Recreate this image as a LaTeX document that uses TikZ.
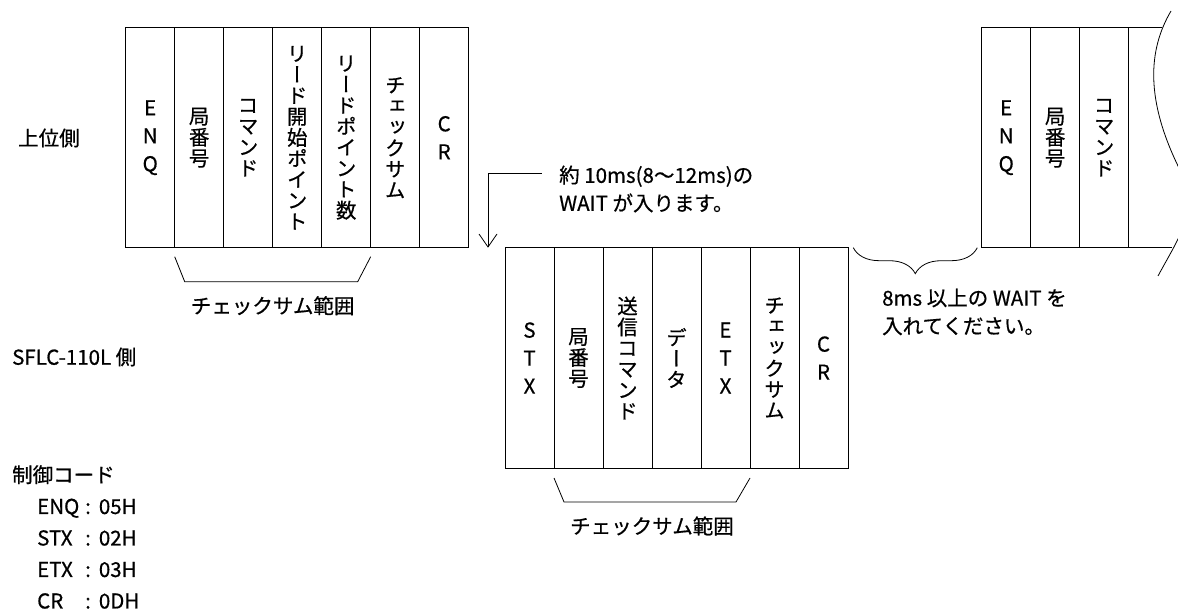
\documentclass[tikz,border=0pt]{standalone}
\usepackage{fontspec}
\setmainfont{Noto Sans CJK JP}[RawFeature={embolden=0.6}]
\newfontfamily\vjp{Noto Sans CJK JP}[RawFeature={+vert;embolden=0.6}]
\usepackage{tikz}
\usetikzlibrary{calc,positioning,arrows.meta,decorations.pathreplacing}
\tikzset{
  frameCell/.style={draw, line width=1pt, minimum width=49pt, minimum height=220pt,
    inner sep=0pt, outer sep=0pt, align=center, font=\vjp\fontsize{20.5}{21}\selectfont},
  codeCell/.style={frameCell, font=\fontsize{20.5}{28}\selectfont},
  rangeLine/.style={line width=0.8pt},
  waitArrow/.style={line width=0.8pt, -{Straight Barb[length=13pt,width=18pt]}},
  rangeBrace/.style={line width=0.8pt, decorate, decoration={brace, amplitude=26pt}},
  noteText/.style={font=\fontsize{20.5}{28}\selectfont, inner sep=0pt, align=left}
}

\begin{document}
\begin{tikzpicture}[x=1pt,y=-1pt]
  \useasboundingbox (0,0) rectangle (1178,612);

  % side labels
  \node[noteText, anchor=west] (host) at (18,138) {上位側};
  \node[noteText, anchor=west] (slave) at (12,357) {SFLC-110L 側};
  \node[noteText, anchor=west, font=\fontsize{20.5}{31.5}\selectfont] (codes) at (12,537)
    {制御コード\\
     \hspace*{25pt}\makebox[48pt][l]{ENQ}:\hspace{8pt}05H\\
     \hspace*{25pt}\makebox[48pt][l]{STX}:\hspace{8pt}02H\\
     \hspace*{25pt}\makebox[48pt][l]{ETX}:\hspace{8pt}03H\\
     \hspace*{25pt}\makebox[48pt][l]{CR}:\hspace{8pt}0DH};

  % host frame
  \node[codeCell] (hEnq) at (150.2,137.7) {E\\N\\Q};
  \node[frameCell, right=0pt of hEnq] (hStn) {局\\番\\号};
  \node[frameCell, right=0pt of hStn] (hCmd) {コ\\マ\\ン\\ド};
  \node[frameCell, right=0pt of hCmd] (hStart) {リ\\ー\\ド\\開\\始\\ポ\\イ\\ン\\ト};
  \node[frameCell, right=0pt of hStart] (hCount) {リ\\ー\\ド\\ポ\\イ\\ン\\ト\\数};
  \node[frameCell, right=0pt of hCount] (hSum) {チ\\ェ\\ッ\\ク\\サ\\ム};
  \node[codeCell, right=0pt of hSum] (hCr) {C\\R};

  \draw[rangeLine] ($(hStn.south west)+(0,9)$) -- ($(hStn.south west)+(10,34)$)
    -- ($(hSum.south west)+(-13,34)$) -- ($(hSum.south west)+(0,9)$);
  \node[noteText] (hRange) at ($(hStn.south west)!0.5!(hSum.south west)+(0,58)$) {チェックサム範囲};

  % slave frame
  \node[codeCell] (sStx) at (529.5,358) {S\\T\\X};
  \node[frameCell, right=0pt of sStx] (sStn) {局\\番\\号};
  \node[frameCell, right=0pt of sStn] (sCmd) {送\\信\\コ\\マ\\ン\\ド};
  \node[frameCell, right=0pt of sCmd] (sData) {デ\\ー\\タ};
  \node[codeCell, right=0pt of sData] (sEtx) {E\\T\\X};
  \node[frameCell, right=0pt of sEtx] (sSum) {チ\\ェ\\ッ\\ク\\サ\\ム};
  \node[codeCell, right=0pt of sSum] (sCr) {C\\R};

  \draw[rangeLine] ($(sStn.south west)+(0,10)$) -- ($(sStn.south west)+(10,34)$)
    -- ($(sSum.south west)+(-14,34)$) -- ($(sSum.south west)+(0,10)$);
  \node[noteText] (sRange) at ($(sStn.south west)!0.5!(sSum.south west)+(0,58)$) {チェックサム範囲};

  % wait before reply
  \coordinate (waitStart) at (541.7,173.3);
  \coordinate (waitTip) at (488,247.7);
  \draw[waitArrow] (waitStart) -| (waitTip);
  \node[noteText, anchor=west] (waitNote) at (559,189) {約 10ms(8～12ms)の\\WAIT が入ります。};

  % next request
  \node[codeCell] (nEnq) at (1006.2,137.7) {E\\N\\Q};
  \node[frameCell, right=0pt of nEnq] (nStn) {局\\番\\号};
  \node[frameCell, right=0pt of nStn] (nCmd) {コ\\マ\\ン\\ド};
  \coordinate (waveTop) at (1162,27.7);
  \coordinate (waveBot) at (1172,247.7);
  \draw[line width=1pt] (nCmd.north east) -- (waveTop);
  \draw[line width=1pt] (nCmd.south east) -- (waveBot);
  \draw[rangeLine] (1171,11) .. controls (1148,50) and (1145,100) .. (1180,170)
    .. controls (1200,210) and (1180,235) .. (1158,276);

  \coordinate (gapRight) at (977.3,247.7);
  \coordinate (gapLeft) at (853.3,247.7);
  \draw[rangeBrace] (gapRight) -- (gapLeft);
  \node[noteText, anchor=west] (gapNote) at (882,312) {8ms 以上の WAIT を\\入れてください。};
\end{tikzpicture}
\end{document}
